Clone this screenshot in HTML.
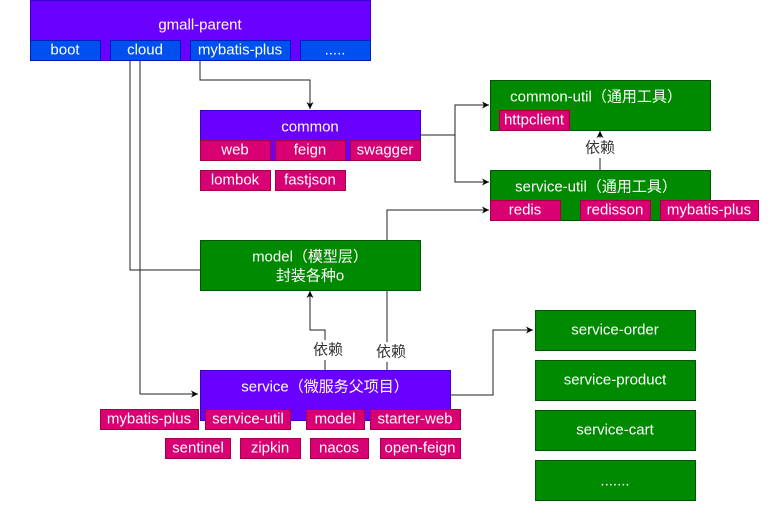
<!DOCTYPE html>
<html><head><meta charset="utf-8"><style>
html,body{margin:0;padding:0;background:#fff;}
svg{display:block;}
text{font-family:"Liberation Sans","Noto Sans CJK SC",sans-serif;font-size:15px;fill:#fff;text-anchor:middle;dominant-baseline:central;}
.d{fill:#333;}
.p{fill:#6a00ff;stroke:#3700cc;}
.b{fill:#0050ef;stroke:#001dbc;}
.g{fill:#008a00;stroke:#005700;}
.m{fill:#d80073;stroke:#a50040;}
.l{fill:none;stroke:#222;stroke-width:1;}
</style></head><body>
<svg width="770" height="524" viewBox="0 0 770 524" xmlns="http://www.w3.org/2000/svg">
<defs><marker id="a" markerWidth="8" markerHeight="8" refX="7" refY="4" orient="auto" markerUnits="userSpaceOnUse"><path d="M0,0.5 L7,4 L0,7.5 L2,4 Z" fill="#000"/></marker></defs>
<path class="l" d="M130,60 V270 H200"/>
<path class="l" d="M140,60 V394 H198" marker-end="url(#a)"/>
<path class="l" d="M200,60 V80 H310 V109" marker-end="url(#a)"/>
<path class="l" d="M420,135 H455 V105 H489" marker-end="url(#a)"/>
<path class="l" d="M455,135 V182 H489" marker-end="url(#a)"/>
<path class="l" d="M600,170 V131" marker-end="url(#a)"/>
<path class="l" d="M325,370 V330 H310 V291" marker-end="url(#a)"/>
<path class="l" d="M387,370 V210 H489" marker-end="url(#a)"/>
<path class="l" d="M450,395 H493 V330 H533" marker-end="url(#a)"/>
<rect x="586" y="138" width="30" height="20" fill="#fff"/>
<text class="d" x="600" y="148">依赖</text>
<rect x="312" y="340" width="32" height="20" fill="#fff"/>
<text class="d" x="328" y="350">依赖</text>
<rect x="374" y="342" width="32" height="20" fill="#fff"/>
<text class="d" x="391" y="352">依赖</text>
<rect class="p" x="30.5" y="0.5" width="340" height="60"/>
<text x="200" y="25">gmall-parent</text>
<rect class="b" x="30.5" y="40.5" width="70" height="20"/><text x="65" y="50">boot</text>
<rect class="b" x="110.5" y="40.5" width="70" height="20"/><text x="145" y="50">cloud</text>
<rect class="b" x="190.5" y="40.5" width="100" height="20"/><text x="240" y="50">mybatis-plus</text>
<rect class="b" x="300.5" y="40.5" width="70" height="20"/><text x="335" y="50">.....</text>
<rect class="p" x="200.5" y="110.5" width="220" height="50"/>
<text x="310" y="127">common</text>
<rect class="m" x="200.5" y="140.5" width="70" height="20"/><text x="235" y="150">web</text>
<rect class="m" x="275.5" y="140.5" width="70" height="20"/><text x="310" y="150">feign</text>
<rect class="m" x="350.5" y="140.5" width="70" height="20"/><text x="385" y="150">swagger</text>
<rect class="m" x="200.5" y="170.5" width="70" height="20"/><text x="235" y="180">lombok</text>
<rect class="m" x="275.5" y="170.5" width="70" height="20"/><text x="310" y="180">fastjson</text>
<rect class="g" x="490.5" y="80.5" width="220" height="50"/>
<text x="596" y="97">common-util（通用工具）</text>
<rect class="m" x="499.5" y="110.5" width="70" height="20"/><text x="534" y="120">httpclient</text>
<rect class="g" x="490.5" y="170.5" width="220" height="50"/>
<text x="596" y="187">service-util（通用工具）</text>
<rect class="m" x="490.5" y="200.5" width="70" height="20"/><text x="525" y="210">redis</text>
<rect class="m" x="580.5" y="200.5" width="70" height="20"/><text x="615" y="210">redisson</text>
<rect class="m" x="660.5" y="200.5" width="98" height="20"/><text x="709" y="210">mybatis-plus</text>
<rect class="g" x="200.5" y="240.5" width="220" height="50"/>
<text x="310" y="257">model（模型层）</text>
<text x="310" y="276">封装各种o</text>
<rect class="p" x="200.5" y="370.5" width="250" height="50"/>
<text x="325" y="387">service（微服务父项目）</text>
<rect class="m" x="100.5" y="409.5" width="98" height="20"/><text x="149" y="419">mybatis-plus</text>
<rect class="m" x="205.5" y="409.5" width="85" height="20"/><text x="248" y="419">service-util</text>
<rect class="m" x="306.5" y="409.5" width="58" height="20"/><text x="335" y="419">model</text>
<rect class="m" x="370.5" y="409.5" width="90" height="20"/><text x="415" y="419">starter-web</text>
<rect class="m" x="165.5" y="438.5" width="65" height="20"/><text x="198" y="448">sentinel</text>
<rect class="m" x="240.5" y="438.5" width="60" height="20"/><text x="270" y="448">zipkin</text>
<rect class="m" x="310.5" y="438.5" width="58" height="20"/><text x="339" y="448">nacos</text>
<rect class="m" x="380.5" y="438.5" width="80" height="20"/><text x="420" y="448">open-feign</text>
<rect class="g" x="535.5" y="310.5" width="160" height="40"/><text x="615" y="330">service-order</text>
<rect class="g" x="535.5" y="360.5" width="160" height="40"/><text x="615" y="380">service-product</text>
<rect class="g" x="535.5" y="410.5" width="160" height="40"/><text x="615" y="430">service-cart</text>
<rect class="g" x="535.5" y="460.5" width="160" height="40"/><text x="615" y="481">.......</text>
</svg>
</body></html>
